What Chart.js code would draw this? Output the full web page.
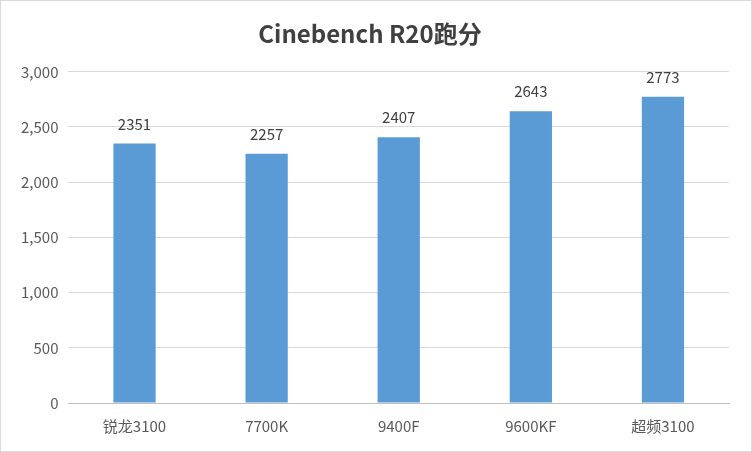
<!DOCTYPE html>
<html><head><meta charset="utf-8">
<script src="https://cdn.jsdelivr.net/npm/chart.js@4/dist/chart.umd.min.js"></script>
<style>html,body{margin:0;padding:0;background:#fff}#w{width:750px;height:450px;border:1px solid #d9d9d9;position:relative}</style>
</head><body><div id="w"><canvas id="c"></canvas></div>
<script>
const categories=["锐龙3100","7700K","9400F","9600KF","超频3100"];
const scores=[2351,2257,2407,2643,2773];
const yTicks=[0,500,1000,1500,2000,2500,3000];
const font="'Noto Sans CJK SC','Noto Sans',sans-serif";
const labelPlugin={id:'lbl',afterDatasetsDraw(ch){const ctx=ch.ctx;const m=ch.getDatasetMeta(0);ctx.save();ctx.font="15px "+font;ctx.fillStyle="#404040";ctx.textAlign="center";ctx.textBaseline="bottom";m.data.forEach((b,i)=>{ctx.fillText(ch.data.datasets[0].data[i],b.x,b.y-12);});ctx.restore();}};
new Chart(document.getElementById('c'),{type:'bar',
data:{labels:categories,datasets:[{data:scores,backgroundColor:'#5b9bd5',categoryPercentage:1,barPercentage:0.32}]},
options:{responsive:true,maintainAspectRatio:false,animation:false,
layout:{padding:{left:10,right:22,top:4,bottom:10}},
plugins:{legend:{display:false},tooltip:{enabled:false},
title:{display:true,text:'Cinebench R20跑分',font:{family:font,size:24},color:'#404040',padding:{top:14,bottom:24}}},
scales:{y:{min:0,max:3000,afterBuildTicks:a=>{a.ticks=yTicks.map(v=>({value:v}));},
ticks:{font:{family:font,size:15},color:'#595959',padding:10},
grid:{color:'#d9d9d9',drawTicks:false},border:{display:false}},
x:{ticks:{font:{family:font,size:15},color:'#595959',padding:6},grid:{display:false},border:{color:'#bfbfbf'}}}}
,plugins:[labelPlugin]});
</script></body></html>
